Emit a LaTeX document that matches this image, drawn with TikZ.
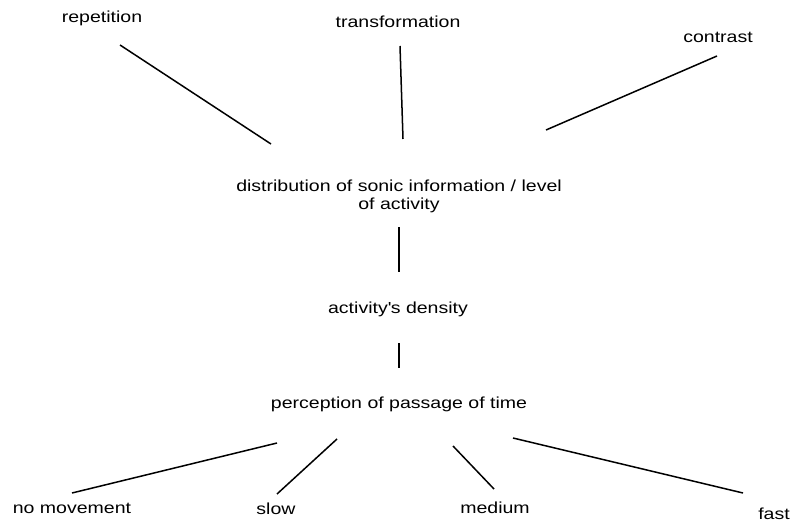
\documentclass[tikz,border=0pt]{standalone}
\usepackage{fontspec}
\setmainfont[FakeStretch=1.22]{Liberation Sans}
\begin{document}
\begin{tikzpicture}[x=1pt,y=-1pt,
  lbl/.style={anchor=base,inner sep=0pt,font=\fontsize{16}{18}\selectfont,align=center},
  conn/.style={line width=1.5pt,black}]
\useasboundingbox (0,0) rectangle (791,521);
\node[lbl] (rep) at (102,23) {repetition};
\node[lbl] (tra) at (398,28) {transformation};
\node[lbl] (con) at (718,43) {contrast};
\node[lbl] (dis) at (399,210) {distribution of sonic information / level\\of activity};
\node[lbl] (den) at (398,313) {activity\textquotesingle s density};
\node[lbl] (per) at (399,408) {perception of passage of time};
\node[lbl] (nom) at (72,513) {no movement};
\node[lbl] (slo) at (276,514) {slow};
\node[lbl] (med) at (495,513) {medium};
\node[lbl] (fas) at (774,519) {fast};
\coordinate (r1) at (120,45); \coordinate (r2) at (271,144);
\coordinate (t1) at (400,46); \coordinate (t2) at (403,139);
\coordinate (c1) at (717,56); \coordinate (c2) at (546,130);
\coordinate (d1) at (399,227); \coordinate (d2) at (399,272);
\coordinate (e1) at (399,343); \coordinate (e2) at (399,368);
\coordinate (n1) at (277,443); \coordinate (n2) at (72,493);
\coordinate (s1) at (337,439); \coordinate (s2) at (277,494);
\coordinate (m1) at (453,446); \coordinate (m2) at (494,489);
\coordinate (f1) at (513,438); \coordinate (f2) at (743,493);
\draw[conn] (r1) -- (r2);
\draw[conn] (t1) -- (t2);
\draw[conn] (c1) -- (c2);
\draw[conn] (d1) -- (d2);
\draw[conn] (e1) -- (e2);
\draw[conn] (n1) -- (n2);
\draw[conn] (s1) -- (s2);
\draw[conn] (m1) -- (m2);
\draw[conn] (f1) -- (f2);
\end{tikzpicture}
\end{document}
